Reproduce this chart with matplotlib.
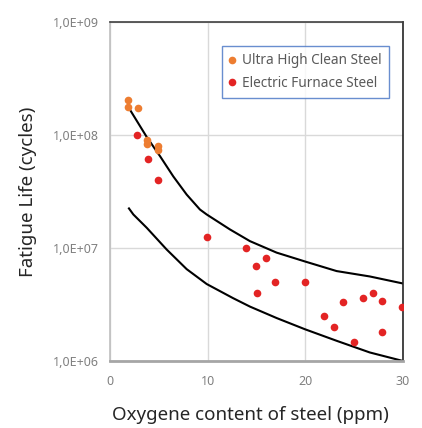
import matplotlib.pyplot as plt
from matplotlib.ticker import FixedLocator

plt.rcParams['font.family'] = ['Noto Sans', 'DejaVu Sans']

# donnees
clean_x = [1.8, 1.85, 2.9, 3.8, 3.8, 4.9, 4.9]
clean_y = [2.05e8, 1.78e8, 1.72e8, 9.0e7, 8.3e7, 8.0e7, 7.4e7]

furnace_x = [2.8, 3.9, 4.9, 9.9, 13.9, 14.9, 16.0, 16.9, 15.0, 20.0,
             21.9, 22.9, 23.9, 25.0, 25.9, 26.9, 27.9, 27.9, 29.9]
furnace_y = [1.0e8, 6.1e7, 4.0e7, 1.26e7, 1.0e7, 7.0e6, 8.1e6, 5.0e6, 4.0e6, 5.0e6,
             2.5e6, 2.0e6, 3.3e6, 1.46e6, 3.6e6, 4.0e6, 3.4e6, 1.8e6, 3.0e6]

# courbes limites
upper_x = [2.05, 3.76, 5.12, 6.48, 7.85, 9.21, 9.9, 12.28, 14.33, 17.06, 19.96, 23.2, 26.6, 30.0]
upper_y = [1.67e8, 9.6e7, 6.5e7, 4.3e7, 2.97e7, 2.19e7, 1.98e7, 1.46e7, 1.15e7, 9.1e6,
           7.6e6, 6.25e6, 5.6e6, 4.85e6]

lower_x = [1.94, 2.39, 3.76, 5.8, 7.85, 9.9, 12.6, 14.33, 17.06, 19.96, 23.2, 26.6, 30.0]
lower_y = [2.24e7, 1.98e7, 1.51e7, 9.7e6, 6.5e6, 4.8e6, 3.6e6, 3.03e6, 2.4e6, 1.91e6,
           1.51e6, 1.19e6, 1.0e6]

x_ticks = [0, 10, 20, 30]
y_ticks = [1e6, 1e7, 1e8, 1e9]
y_labels = ['1,0E+06', '1,0E+07', '1,0E+08', '1,0E+09']

fig = plt.figure(figsize=(4.22, 4.28), dpi=100)
ax = fig.add_axes([110 / 422, 1 - 361 / 428, 293 / 422, 339 / 428])

ax.plot(upper_x, upper_y, color='black', lw=1.5, zorder=2, solid_joinstyle='round')
ax.plot(lower_x, lower_y, color='black', lw=1.5, zorder=2, solid_joinstyle='round')
ax.plot(clean_x, clean_y, 'o', color='#ED7D31', ms=5.5, mec='none',
        label='Ultra High Clean Steel', zorder=3)
ax.plot(furnace_x, furnace_y, 'o', color='#E32424', ms=5.5, mec='none',
        label='Electric Furnace Steel', zorder=3)

ax.set_yscale('log')
ax.set_xlim(0, 30)
ax.set_ylim(1e6, 1e9)
ax.xaxis.set_major_locator(FixedLocator(x_ticks))
ax.yaxis.set_major_locator(FixedLocator(y_ticks))
ax.yaxis.set_minor_locator(FixedLocator([]))
ax.set_yticklabels(y_labels)
ax.tick_params(length=0, labelsize=9, labelcolor='#808080')
ax.tick_params(axis='x', pad=10)
ax.tick_params(axis='y', pad=8)

ax.grid(True, color='#d9d9d9', lw=1)
ax.set_axisbelow(True)

# bordures
ax.spines['top'].set_color('#404040')
ax.spines['top'].set_linewidth(1.2)
ax.spines['right'].set_color('#262626')
ax.spines['right'].set_linewidth(1.2)
ax.spines['left'].set_color('#bfbfbf')
ax.spines['left'].set_linewidth(1.2)
ax.spines['bottom'].set_color('#a6a6a6')
ax.spines['bottom'].set_linewidth(2)

ax.set_xlabel('Oxygene content of steel (ppm)', fontsize=13.5, color='#262626')
ax.xaxis.set_label_coords(0.481, -0.133)
ax.set_ylabel('Fatigue Life (cycles)', fontsize=13.5, color='#262626')
ax.yaxis.set_label_coords(-0.25, 0.5)

leg = ax.legend(loc='upper left', bbox_to_anchor=(112 / 293, 1 - 24 / 339),
                frameon=True, fancybox=False, handlelength=0.4, handletextpad=0.5,
                borderpad=0.55, labelspacing=0.55, fontsize=9.8, borderaxespad=0)
leg.get_frame().set_edgecolor('#4472C4')
leg.get_frame().set_linewidth(1)
for t in leg.get_texts():
    t.set_color('#595959')
    t.set_fontweight('semibold')

plt.savefig('out.png', dpi=100)
